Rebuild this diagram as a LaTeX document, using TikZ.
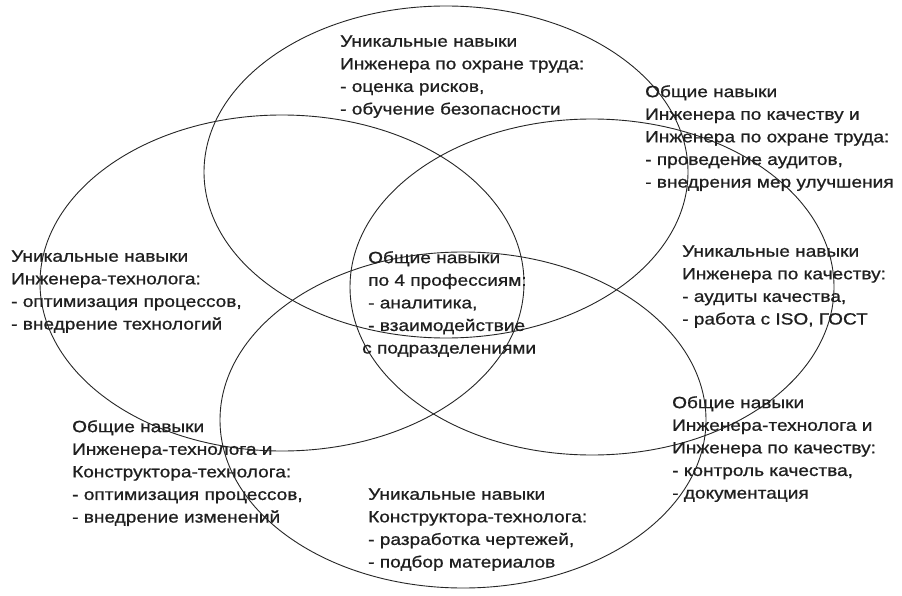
\documentclass[tikz,border=0pt]{standalone}
\usepackage{fontspec}
\setmainfont{Liberation Sans}[FakeStretch=1.17,FakeBold=0.8]
\begin{document}
\begin{tikzpicture}[x=1pt,y=-1pt,
  venn/.style={draw=black!85, line width=0.9pt},
  lbl/.style={anchor=north west, inner sep=0pt, align=left,
    font=\fontsize{16.3}{22.6}\selectfont, text=black!88}]
\useasboundingbox (0,0) rectangle (902,596);
\fill[white] (0,0) rectangle (902,596);
% circles
\draw[venn] (446,172) ellipse [x radius=242, y radius=166];
\draw[venn] (282,283) ellipse [x radius=242, y radius=168];
\draw[venn] (592,287) ellipse [x radius=242, y radius=168];
\draw[venn] (463,420) ellipse [x radius=243, y radius=168];
% labels
\node[lbl] (ohr) at (340,35.3) {Уникальные навыки\\Инженера по охране труда:\\- оценка рисков,\\- обучение безопасности};
\node[lbl] (teh) at (11,250.3) {Уникальные навыки\\Инженера-технолога:\\- оптимизация процессов,\\- внедрение технологий};
\node[lbl] (all) at (368,251) {Общие навыки\\по 4 профессиям:\\- аналитика,\\- взаимодействие\\\hspace*{-6pt}с подразделениями};
\node[lbl] (kach-ohr) at (645,85) {Общие навыки\\Инженера по качеству и\\Инженера по охране труда:\\- проведение аудитов,\\- внедрения мер улучшения};
\node[lbl] (kach) at (682,245.3) {Уникальные навыки\\Инженера по качеству:\\- аудиты качества,\\- работа с ISO, ГОСТ};
\node[lbl] (teh-kach) at (672,396) {Общие навыки\\Инженера-технолога и\\Инженера по качеству:\\- контроль качества,\\- документация};
\node[lbl] (konstr) at (368,488.3) {Уникальные навыки\\Конструктора-технолога:\\- разработка чертежей,\\- подбор материалов};
\node[lbl] (teh-konstr) at (72,420) {Общие навыки\\Инженера-технолога и\\Конструктора-технолога:\\- оптимизация процессов,\\- внедрение изменений};
\end{tikzpicture}
\end{document}
